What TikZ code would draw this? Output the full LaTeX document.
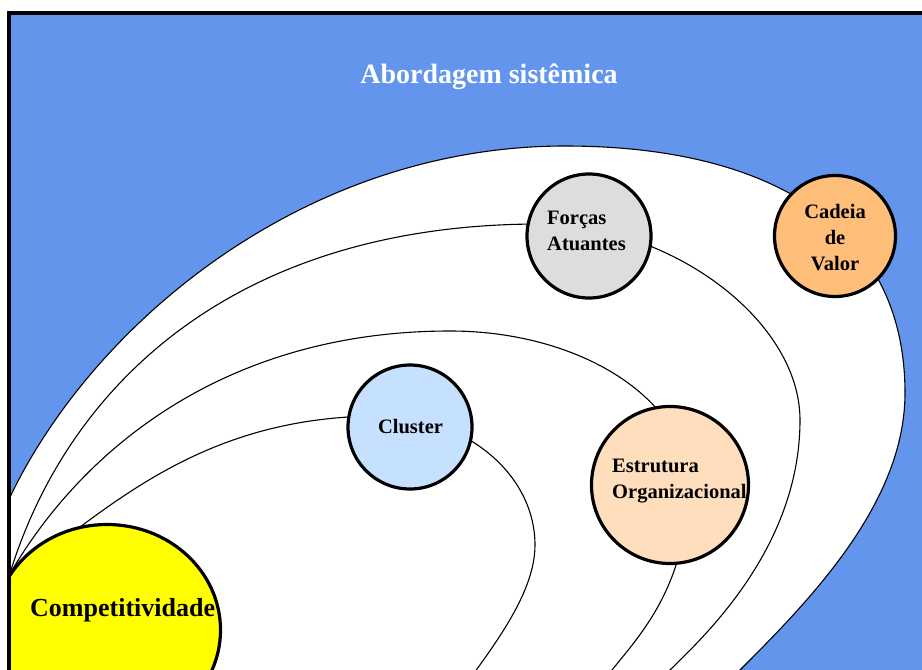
\documentclass[tikz,border=0pt]{standalone}
\usepackage{fontspec}
\setmainfont{Liberation Serif}
\usetikzlibrary{shapes.geometric}
\definecolor{sky}{RGB}{100,149,237}
\definecolor{sunyellow}{RGB}{255,255,0}
\definecolor{forcegray}{RGB}{221,221,221}
\definecolor{chainorange}{RGB}{255,190,122}
\definecolor{clusterblue}{RGB}{198,224,255}
\definecolor{orgpeach}{RGB}{255,222,190}
\begin{document}
\begin{tikzpicture}[x=1pt,y=-1pt,
  disc/.style={circle, draw=black, line width=3.2pt, inner sep=0pt},
  lbl/.style={font=\bfseries\fontsize{20.5}{26}\selectfont, inner sep=0pt, text=black},
  orbit/.style={draw=black, line width=1.1pt},
]
\useasboundingbox (0,0) rectangle (922,670);
\fill[white] (0,0) rectangle (922,670);

\begin{scope}
  \clip (9,13) rectangle (922,670);
  \fill[sky] (9,13) rectangle (922,670);

  % outermost region of the system approach
  \filldraw[fill=white, orbit] (-10,538) -- (12,493)
    .. controls (95.6,322) and (305,146) .. (565,146)
    .. controls (765,146) and (905,223) .. (905,393)
    .. controls (905,503) and (810,600) .. (740,670)
    -- (700,710) -- (-20,710) -- cycle;

  % orbit through the acting forces
  \draw[orbit] (11,570)
    .. controls (71,380) and (240,224) .. (540,224)
    .. controls (670,224) and (800,320) .. (800,420)
    .. controls (800,550) and (700,640) .. (670,670) -- (640,700);

  % orbit through the organisational structure
  \draw[orbit] (11,572)
    .. controls (86,444.5) and (230,331) .. (450,331)
    .. controls (581,331) and (688,400) .. (688,485)
    .. controls (688,585) and (640,635) .. (612,670) -- (590,697);

  % orbit through the cluster
  \draw[orbit] (30,565)
    .. controls (118,499) and (210,416) .. (380,416)
    .. controls (465,416) and (535,474) .. (535,545)
    .. controls (535,595) and (490,650) .. (462,690);

  % discs
  \node[ellipse, draw=black, line width=3.2pt, fill=sunyellow,
        minimum width=227pt, minimum height=211pt, inner sep=0pt]
        (comp) at (107,630) {};
  \node[disc, fill=forcegray,   minimum size=124pt] (forcas)  at (589,236) {};
  \node[disc, fill=chainorange, minimum size=121pt] (cadeia)  at (835,236) {};
  \node[disc, fill=clusterblue, minimum size=124pt] (cluster) at (410,427) {};
  \node[disc, fill=orgpeach,    minimum size=157pt] (estr)    at (670,485) {};

  % labels
  \node[lbl, font=\bfseries\fontsize{26}{30}\selectfont, anchor=base west]
        (compTxt) at (30,616) {Competitividade};
  \node[lbl, align=left, anchor=west] (forcasTxt) at (547,231) {Forças\\Atuantes};
  \node[lbl, align=center] (cadeiaTxt) at (835,238) {Cadeia\\de\\Valor};
  \node[lbl, anchor=base] (clusterTxt) at (410.5,433) {Cluster};
  \node[lbl, align=left, anchor=west] (estrTxt) at (612,481.5) {Estrutura\\Organizacional};

  \node[anchor=base, text=white, font=\bfseries\fontsize{28}{32}\selectfont]
        (title) at (489,83) {Abordagem sistêmica};
\end{scope}

% frame
\draw[line width=3.5pt] (7,13) -- (922,13);
\draw[line width=3.5pt] (9,11) -- (9,670);
\end{tikzpicture}
\end{document}
